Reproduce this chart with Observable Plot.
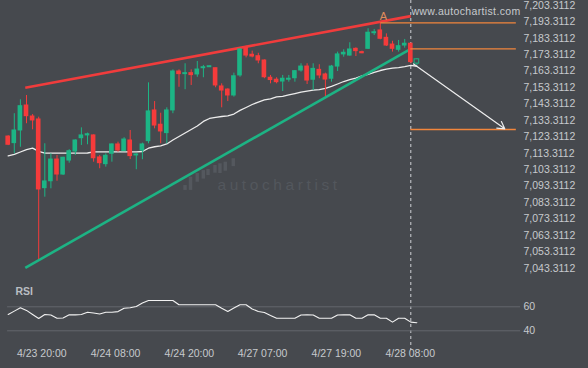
<!DOCTYPE html>
<html><head><meta charset="utf-8">
<script src="https://cdn.jsdelivr.net/npm/d3@7"></script>
<script src="https://cdn.jsdelivr.net/npm/@observablehq/plot@0.6"></script>
<style>
html,body{margin:0;padding:0;background:#46494e;}
#wrap{position:relative;width:588px;height:368px;overflow:hidden;background:#46494e;}
#wrap svg{position:absolute;left:0;top:0;}
</style></head><body><div id="wrap"></div>
<script>
// ---- data (hourly candles, index 0..67) ----
const opens  = [7123.1,7119.1,7126.8,7142.0,7135.3,7133.5,7091.7,7095.9,7109.1,7100.0,7108.5,7114.0,7122.1,7123.8,7123.8,7110.4,7106.3,7112.6,7118.3,7114.2,7120.7,7111.6,7114.6,7120.3,7139.0,7130.3,7125.2,7139.0,7162.7,7161.1,7161.7,7160.9,7164.7,7165.3,7164.7,7153.6,7151.7,7148.1,7160.3,7177.1,7172.9,7172.0,7169.4,7158.9,7157.7,7156.6,7157.7,7158.6,7163.3,7165.7,7157.7,7163.7,7160.9,7158.3,7165.7,7173.1,7172.4,7176.5,7174.5,7176.5,7186.0,7187.7,7183.2,7179.1,7175.9,7178.5,7179.6,7167.8];
const highs  = [7123.6,7137.0,7145.5,7148.1,7136.5,7134.9,7118.7,7112.6,7111.6,7110.5,7115.1,7121.1,7128.4,7125.2,7124.1,7111.6,7112.6,7118.6,7119.7,7122.4,7126.8,7112.6,7119.1,7155.8,7144.4,7137.3,7140.6,7163.7,7163.7,7167.4,7163.7,7168.8,7166.4,7165.9,7164.7,7155.2,7152.2,7161.7,7176.5,7178.1,7175.1,7173.8,7169.8,7160.3,7158.9,7160.3,7160.3,7163.3,7167.4,7167.4,7167.4,7166.8,7161.7,7166.4,7174.5,7175.9,7180.2,7177.1,7175.1,7188.7,7188.3,7192.7,7185.6,7181.1,7181.6,7182.2,7179.9,7170.4];
const lows   = [7117.6,7112.6,7116.6,7130.9,7127.2,7048.3,7086.2,7091.3,7095.9,7099.4,7106.9,7111.6,7117.7,7118.1,7107.5,7103.5,7104.5,7107.5,7113.6,7114.0,7109.1,7102.9,7109.0,7118.7,7127.8,7118.7,7118.7,7137.0,7153.1,7151.6,7154.2,7159.2,7158.9,7165.3,7152.8,7140.6,7144.4,7147.1,7159.2,7171.0,7171.0,7167.4,7158.3,7155.2,7155.2,7150.5,7156.2,7156.2,7162.3,7154.8,7151.1,7158.3,7147.5,7156.2,7162.7,7171.4,7172.0,7171.8,7173.5,7176.1,7184.6,7182.0,7177.9,7174.5,7174.5,7176.9,7167.4,7166.4];
const closes = [7118.1,7126.8,7141.6,7135.5,7132.9,7090.9,7095.8,7109.1,7100.0,7110.2,7114.2,7120.7,7123.8,7124.5,7109.9,7106.9,7111.4,7118.3,7114.6,7121.3,7111.2,7112.2,7118.3,7138.4,7129.8,7126.2,7139.0,7162.7,7161.1,7161.7,7160.5,7163.9,7165.3,7165.9,7154.2,7151.1,7148.1,7159.8,7176.1,7172.4,7171.8,7169.4,7159.2,7157.5,7156.2,7158.3,7158.3,7162.9,7165.7,7157.2,7164.3,7160.3,7157.8,7165.7,7173.1,7174.1,7176.1,7175.1,7173.8,7186.3,7186.6,7182.6,7178.5,7176.5,7178.1,7179.6,7168.4,7169.8];
const movingAvg = [7111.4,7112.2,7113.7,7115.2,7116.1,7114.1,7113.0,7113.0,7113.0,7113.0,7113.0,7113.0,7113.0,7113.1,7113.8,7113.8,7113.8,7113.8,7113.8,7113.8,7113.8,7113.8,7114.0,7116.0,7116.9,7117.4,7118.6,7121.0,7123.1,7125.3,7127.4,7129.5,7132.3,7134.1,7134.8,7135.3,7135.7,7136.8,7139.0,7140.8,7142.6,7144.1,7145.4,7146.1,7147.2,7147.5,7148.4,7149.3,7150.2,7150.8,7151.4,7151.7,7152.4,7153.6,7155.1,7156.6,7157.8,7158.7,7160.0,7160.9,7162.1,7163.3,7164.1,7164.7,7165.1,7165.7,7166.4,7165.9];
const rsi = [53.6,56.4,59.2,57.0,53.6,50.2,53.6,53.2,50.5,50.7,53.3,53.3,53.6,55.5,54.8,54.0,55.5,55.5,56.0,58.8,59.2,60.2,63.2,65.3,65.3,65.3,65.3,65.3,61.7,61.7,61.7,61.7,61.7,61.7,61.7,58.8,56.1,59.0,61.7,61.7,58.2,56.1,55.3,52.8,50.5,50.5,50.5,50.5,53.2,53.3,53.2,50.5,50.5,50.5,53.2,53.3,53.3,50.5,50.5,53.3,53.3,50.5,50.5,47.2,50.5,50.5,47.2,46.7];

// pattern lines (candle index, price)
const resistance = [{x1:2.8, y1:7152.8, x2:66, y2:7196.4}];
const support    = [{x1:2.8, y1:7043.2, x2:66, y2:7176.5}];
const levels     = [{y:7192.3, from:61.1, to:83.3}, {y:7176.5, from:66, to:83.3}, {y:7127.4, from:66, to:83.3}];
const forecast   = [{x1:66.45, y1:7167.3, x2:81.4, y2:7127.8}];
const pointLabels = [{x:61.5, y:7196.1, text:"A"}];
const currentIdx = 66;
const logoBars = [[29.07,7090.3,7093.3],[29.97,7090.3,7098.4],[31.07,7095.3,7100.6],[32.07,7097.2,7102.4],[32.84,7099.4,7103.1],[33.98,7100.8,7105.5],[34.8,7100.6,7106.5],[35.67,7102.0,7107.5],[36.98,7104.8,7109.6]];

// axes
const yTicks = [7043.3112,7053.3112,7063.3112,7073.3112,7083.3112,7093.3112,7103.3112,7113.3112,7123.3112,7133.3112,7143.3112,7153.3112,7163.3112,7173.3112,7183.3112,7193.3112,7203.3112];
const xTickPos = [5.5,17.6,29.7,41.7,53.8,65.9];
const xTickLabels = ["4/23 20:00","4/24 08:00","4/24 20:00","4/27 07:00","4/27 19:00","4/28 08:00"];
const rsiTicks = [60,40];

// ---- styles ----
const BG="#46494e", GREEN="#1cb585", RED="#f53b3b", TEXT="#c6c9cd", ORANGE="#f2863c";
const FONT="Liberation Sans, Arial, sans-serif";

const candles = opens.map((o,i)=>({i,o,h:highs[i],l:lows[i],c:closes[i]}));
const col = d => d.c >= d.o ? GREEN : RED;
const ma = movingAvg.map((v,i)=>({i,v}));
const rsiData = rsi.map((v,i)=>({i,v}));
const xScale = {type:"linear", domain:[0,66], range:[7.7,410.3], axis:null};
const fmt = d3.format(",.4f");

const price = Plot.plot({
  width:588, height:368, marginTop:0, marginLeft:0, marginRight:65, marginBottom:18,
  style:{background:"transparent", fontFamily:FONT},
  x: xScale,
  y: {domain:[7043.3112,7203.3112], range:[267.15,4.27], axis:null},
  marks:[
    Plot.rect(logoBars, {x1:d=>d[0]-0.28, x2:d=>d[0]+0.28, y1:d=>d[1], y2:d=>d[2], fill:"#54585e"}),
    Plot.text(["autochartist"], {x:34.3, y:7093.8, text:d=>d, textAnchor:"start", fontSize:15.5, fill:"#53575d"}),
    Plot.ruleX([currentIdx], {stroke:"#cfd2d6", strokeDasharray:"3,3", strokeWidth:1}),
    Plot.line(ma, {x:"i", y:"v", stroke:"#ececec", strokeWidth:1.3}),
    Plot.link(resistance, {x1:"x1", y1:"y1", x2:"x2", y2:"y2", stroke:"#f03c3c", strokeWidth:2.6}),
    Plot.link(support, {x1:"x1", y1:"y1", x2:"x2", y2:"y2", stroke:"#1db384", strokeWidth:2.6}),
    Plot.ruleX(candles, {x:"i", y1:"l", y2:"h", stroke:col, strokeWidth:1}),
    Plot.rect(candles, {x1:d=>d.i-0.38, x2:d=>d.i+0.38, y1:"o", y2:"c", fill:d=>d.i===67?BG:col(d), stroke:d=>d.i===67?GREEN:"none", insetTop:-0.5, insetBottom:-0.5}),
    Plot.ruleY(levels, {y:"y", x1:"from", x2:"to", stroke:ORANGE, strokeWidth:1.3}),
    Plot.arrow(forecast, {x1:"x1", y1:"y1", x2:"x2", y2:"y2", stroke:"#eeeeee", strokeWidth:1.2, headLength:10}),
    Plot.text(pointLabels, {x:"x", y:"y", text:"text", fill:"#e08c5c", fontSize:11}),
    Plot.text(["www.autochartist.com"], {x:66.1, y:7199.2, text:d=>d, textAnchor:"start", fill:TEXT, fontSize:10.5}),
    Plot.text(yTicks, {y:d=>d, text:d=>fmt(d), frameAnchor:"right", textAnchor:"start", dy:0.5, fill:TEXT, fontSize:10.5})
  ]
});

const rsiPlot = Plot.plot({
  width:588, height:368, marginTop:0, marginLeft:0, marginRight:65, marginBottom:18,
  style:{background:"transparent", fontFamily:FONT},
  x: xScale,
  y: {domain:[40,60], range:[330.3,306.3], axis:null},
  marks:[
    Plot.ruleY(rsiTicks, {y:d=>d, x1:-0.1, x2:84, stroke:"#63676d", strokeWidth:1}),
    Plot.line(rsiData, {x:"i", y:"v", stroke:"#f2f2f2", strokeWidth:1.1}),
    Plot.text(rsiTicks, {y:d=>d, text:d=>String(d), frameAnchor:"right", textAnchor:"start", fill:TEXT, fontSize:10.5}),
    Plot.text(["RSI"], {x:1.2, y:72.7, text:d=>d, textAnchor:"start", fill:"#b9bdc2", fontSize:10.5, fontWeight:"bold"}),
    Plot.text(xTickPos, {x:d=>d, text:(d,i)=>xTickLabels[i], frameAnchor:"bottom", dy:6, fill:TEXT, fontSize:10.5})
  ]
});

// letter spacing of the two watermark texts
d3.select(price).selectAll("text").each(function(){
  const t = this.textContent;
  if (t === "autochartist") this.setAttribute("letter-spacing", "3.6");
  if (t === "www.autochartist.com") this.setAttribute("letter-spacing", "0.35");
});

const wrap = document.getElementById("wrap");
wrap.appendChild(price);
wrap.appendChild(rsiPlot);
</script>
</body></html>
